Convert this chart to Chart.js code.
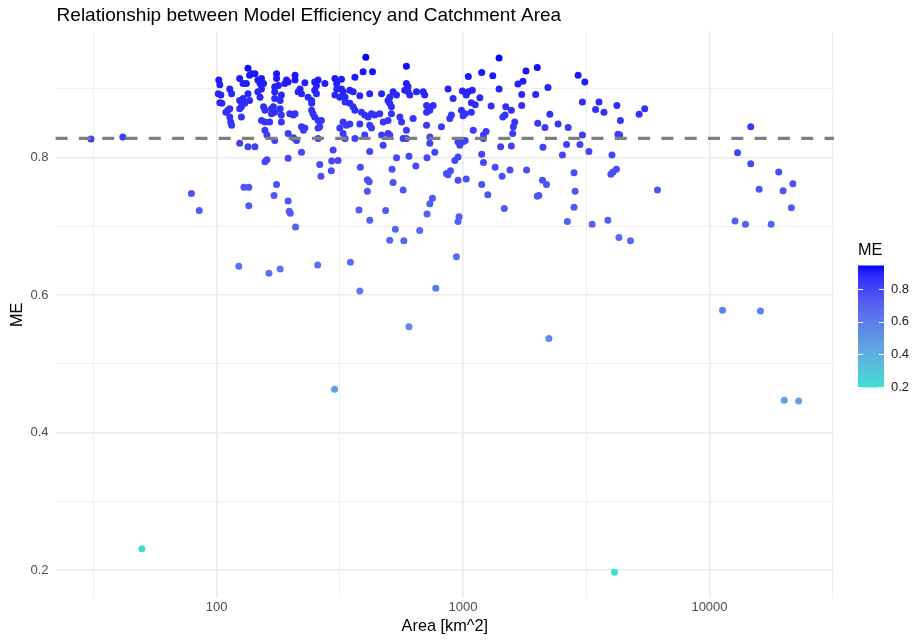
<!DOCTYPE html>
<html>
<head>
<meta charset="utf-8">
<title>Model Efficiency vs Catchment Area</title>
<script src="https://cdn.jsdelivr.net/npm/chart.js@4.4.0/dist/chart.umd.min.js"></script>
<style>
  html, body { margin: 0; padding: 0; background: #ffffff; }
  #wrap { width: 912px; height: 640px; }
</style>
</head>
<body>
<div id="wrap"><canvas id="chart" width="912" height="640"></canvas></div>
<script>
// catchment area [km^2]
const areaKm2 = [
  30.9, 41.6, 79, 85, 102, 103, 101.5, 104, 103, 105,
  113, 115, 111, 109, 113, 113, 114, 115, 124, 128,
  132, 134, 139, 143, 136, 147, 150, 152, 155, 152,
  147, 134, 124, 128, 130, 126, 124, 136, 150, 126,
  155, 157, 152, 164, 157, 167, 170, 172, 167, 175,
  175, 178, 172, 172, 172, 183, 181, 181, 183, 183,
  189, 195, 192, 208, 208, 198, 205, 208, 195, 218,
  221, 214, 228, 221, 228, 225, 235, 243, 243, 243,
  246, 250, 254, 258, 250, 254, 250, 258, 266, 262,
  258, 275, 302, 307, 157, 160, 172, 211, 205, 221,
  258, 124, 134, 143, 297, 403, 393, 429, 364, 321,
  589, 307, 321, 326, 302, 316, 332, 347, 358, 381,
  332, 347, 358, 364, 418, 467, 504, 496, 520, 537,
  504, 512, 589, 598, 580, 598, 608, 647, 689, 699,
  711, 756, 733, 711, 869, 911, 387, 399, 412, 425,
  438, 459, 326, 336, 347, 316, 381, 418, 425, 474,
  496, 512, 554, 563, 627, 589, 711, 817, 897, 883,
  326, 332, 364, 399, 467, 496, 504, 571, 589, 733,
  733, 474, 418, 768, 1400, 1190, 1320, 1050, 1800, 1750,
  1670, 2000, 994, 1050, 1090, 1030, 1170, 1400, 1080, 1120,
  1300, 1730, 1730, 1970, 2210, 985, 1020, 1000, 1080, 1490,
  1570, 1480, 1450, 1620, 1600, 1590, 1100, 1210, 1240, 2250,
  2010, 2150, 2430, 2670, 2930, 3120, 3050, 3450, 3560, 3730,
  4210, 4350, 4250, 4320, 3050, 953, 1000, 970, 1020, 1210,
  1570, 1420, 2110, 2630, 2980, 3240, 1190, 2530, 4020, 5460,
  5180, 6150, 4780, 14700, 13000, 14700, 19100, 15900, 19900, 21800,
  21500, 12700, 14000, 17800, 157, 160, 195, 262, 293, 292,
  265, 175, 129, 135, 171, 195, 135, 197, 199, 209,
  123, 163, 181, 257, 537, 603, 714, 311, 383, 515,
  643, 856, 889, 869, 409, 416, 520, 409, 571, 751,
  733, 378, 485, 714, 418, 531, 667, 504, 575, 349,
  381, 775, 926, 954, 954, 1030, 1210, 1350, 1440, 1550,
  1190, 1260, 1810, 1470, 2100, 2180, 2030, 2000, 2820, 2850,
  2820, 2650, 3340, 3870, 3980, 4060, 4190, 963, 954, 940,
  4290, 301, 603, 2230, 11300, 16100, 20100, 23000, 49.7, 4120
];

// model efficiency for each catchment
const meValues = [
  0.827, 0.830, 0.748, 0.723, 0.913, 0.906, 0.893, 0.891, 0.880, 0.879,
  0.900, 0.893, 0.869, 0.866, 0.871, 0.859, 0.852, 0.847, 0.915, 0.908,
  0.908, 0.930, 0.922, 0.922, 0.920, 0.913, 0.908, 0.915, 0.908, 0.900,
  0.896, 0.893, 0.883, 0.886, 0.879, 0.874, 0.871, 0.883, 0.888, 0.859,
  0.874, 0.869, 0.854, 0.852, 0.840, 0.871, 0.874, 0.866, 0.864, 0.922,
  0.915, 0.905, 0.903, 0.896, 0.886, 0.891, 0.883, 0.871, 0.862, 0.852,
  0.908, 0.910, 0.913, 0.920, 0.913, 0.864, 0.862, 0.864, 0.835, 0.900,
  0.893, 0.896, 0.909, 0.845, 0.843, 0.840, 0.888, 0.883, 0.879, 0.869,
  0.864, 0.910, 0.905, 0.913, 0.898, 0.893, 0.859, 0.854, 0.854, 0.845,
  0.843, 0.908, 0.915, 0.908, 0.852, 0.833, 0.825, 0.825, 0.829, 0.808,
  0.828, 0.821, 0.816, 0.816, 0.811, 0.946, 0.925, 0.925, 0.917, 0.914,
  0.933, 0.900, 0.900, 0.896, 0.891, 0.888, 0.888, 0.898, 0.896, 0.890,
  0.881, 0.879, 0.874, 0.869, 0.893, 0.893, 0.888, 0.883, 0.896, 0.891,
  0.879, 0.874, 0.908, 0.903, 0.898, 0.896, 0.891, 0.896, 0.896, 0.891,
  0.876, 0.876, 0.869, 0.866, 0.900, 0.886, 0.866, 0.862, 0.859, 0.864,
  0.862, 0.864, 0.852, 0.847, 0.849, 0.843, 0.849, 0.847, 0.843, 0.852,
  0.854, 0.864, 0.859, 0.852, 0.857, 0.840, 0.847, 0.845, 0.862, 0.857,
  0.835, 0.828, 0.828, 0.833, 0.833, 0.835, 0.833, 0.828, 0.828, 0.830,
  0.821, 0.818, 0.809, 0.808, 0.945, 0.924, 0.919, 0.918, 0.926, 0.911,
  0.907, 0.931, 0.897, 0.896, 0.898, 0.891, 0.887, 0.900, 0.880, 0.877,
  0.875, 0.892, 0.876, 0.892, 0.902, 0.869, 0.864, 0.861, 0.866, 0.874,
  0.869, 0.862, 0.859, 0.852, 0.845, 0.835, 0.840, 0.833, 0.838, 0.863,
  0.850, 0.844, 0.849, 0.844, 0.920, 0.910, 0.881, 0.870, 0.881, 0.866,
  0.876, 0.854, 0.834, 0.833, 0.833, 0.823, 0.823, 0.818, 0.825, 0.828,
  0.817, 0.816, 0.815, 0.819, 0.819, 0.809, 0.805, 0.804, 0.804, 0.871,
  0.863, 0.753, 0.679, 0.845, 0.807, 0.791, 0.779, 0.754, 0.752, 0.762,
  0.727, 0.708, 0.703, 0.703, 0.794, 0.797, 0.799, 0.790, 0.795, 0.781,
  0.773, 0.761, 0.757, 0.757, 0.745, 0.737, 0.730, 0.722, 0.719, 0.699,
  0.642, 0.632, 0.638, 0.644, 0.800, 0.802, 0.800, 0.796, 0.786, 0.783,
  0.788, 0.777, 0.781, 0.775, 0.768, 0.765, 0.764, 0.751, 0.753, 0.741,
  0.733, 0.724, 0.723, 0.718, 0.709, 0.696, 0.694, 0.680, 0.679, 0.648,
  0.606, 0.610, 0.796, 0.801, 0.767, 0.769, 0.793, 0.786, 0.773, 0.782,
  0.761, 0.746, 0.782, 0.726, 0.767, 0.761, 0.745, 0.744, 0.778, 0.751,
  0.728, 0.707, 0.703, 0.709, 0.776, 0.779, 0.783, 0.714, 0.707, 0.656,
  0.684, 0.463, 0.554, 0.537, 0.578, 0.577, 0.447, 0.446, 0.231, 0.197
];

const meanME = 0.828; // dashed reference line

const xGridTicks = [31.62, 100, 316.2, 1000, 3162, 10000, 31623];
const xLabelTicks = [100, 1000, 10000];
const yGridTicks = [0.2, 0.3, 0.4, 0.5, 0.6, 0.7, 0.8, 0.9];
const yLabelTicks = [0.2, 0.4, 0.6, 0.8];
const legendBreaks = [0.2, 0.4, 0.6, 0.8];

const FONT = '"Liberation Sans", Arial, sans-serif';
const gridColour = '#EBEBEB';
const lowColour = [64, 224, 208];   // turquoise
const highColour = [0, 0, 255];     // blue

// ggplot-like 5% expansion of the data range
const logA = areaKm2.map(a => Math.log10(a));
const lMin = Math.min(...logA), lMax = Math.max(...logA);
const xMin = Math.pow(10, lMin - 0.05 * (lMax - lMin));
const xMax = Math.pow(10, lMax + 0.05 * (lMax - lMin));
const meMin = Math.min(...meValues), meMax = Math.max(...meValues);
const yMin = meMin - 0.05 * (meMax - meMin);
const yMax = meMax + 0.05 * (meMax - meMin);

// colour gradient in CIELAB, like scale_colour_gradient
function toLin(c) { c /= 255; return c <= 0.04045 ? c / 12.92 : Math.pow((c + 0.055) / 1.055, 2.4); }
function fromLin(c) {
  const v = c <= 0.0031308 ? 12.92 * c : 1.055 * Math.pow(c, 1 / 2.4) - 0.055;
  return Math.round(Math.max(0, Math.min(1, v)) * 255);
}
function rgbToLab(rgb) {
  const [r, g, b] = rgb.map(toLin);
  const X = (0.4124 * r + 0.3576 * g + 0.1805 * b) / 0.95047;
  const Y = 0.2126 * r + 0.7152 * g + 0.0722 * b;
  const Z = (0.0193 * r + 0.1192 * g + 0.9505 * b) / 1.08883;
  const f = t => t > 0.008856 ? Math.cbrt(t) : 7.787 * t + 16 / 116;
  const fx = f(X), fy = f(Y), fz = f(Z);
  return [116 * fy - 16, 500 * (fx - fy), 200 * (fy - fz)];
}
function labToRgb(lab) {
  const fy = (lab[0] + 16) / 116, fx = fy + lab[1] / 500, fz = fy - lab[2] / 200;
  const inv = t => t * t * t > 0.008856 ? t * t * t : (t - 16 / 116) / 7.787;
  const X = inv(fx) * 0.95047, Y = inv(fy), Z = inv(fz) * 1.08883;
  const r = 3.2406 * X - 1.5372 * Y - 0.4986 * Z;
  const g = -0.9689 * X + 1.8758 * Y + 0.0415 * Z;
  const b = 0.0557 * X - 0.2040 * Y + 1.0570 * Z;
  return 'rgb(' + fromLin(r) + ',' + fromLin(g) + ',' + fromLin(b) + ')';
}
const labLow = rgbToLab(lowColour), labHigh = rgbToLab(highColour);
function colourFor(v) {
  const t = Math.max(0, Math.min(1, (v - meMin) / (meMax - meMin)));
  return labToRgb(labLow.map((l, i) => l + t * (labHigh[i] - l)));
}

const background = {
  id: 'background',
  beforeDraw(chart) {
    const c = chart.ctx;
    c.save();
    c.fillStyle = '#ffffff';
    c.fillRect(0, 0, chart.width, chart.height);
    c.restore();
  }
};

const meanLine = {
  id: 'meanLine',
  afterDatasetsDraw(chart) {
    const c = chart.ctx, area = chart.chartArea;
    const y = chart.scales.y.getPixelForValue(meanME);
    c.save();
    c.strokeStyle = '#7F7F7F';
    c.lineWidth = 3.2;
    c.setLineDash([12, 11.3]);
    c.beginPath();
    c.moveTo(area.left, y);
    c.lineTo(area.right, y);
    c.stroke();
    c.restore();
  }
};

const plotTitle = {
  id: 'plotTitle',
  afterDraw(chart) {
    const c = chart.ctx;
    c.save();
    c.fillStyle = '#000000';
    c.font = '19px ' + FONT;
    c.textBaseline = 'alphabetic';
    c.textAlign = 'left';
    c.fillText('Relationship between Model Efficiency and Catchment Area', chart.chartArea.left + 1, 21);
    c.restore();
  }
};

// colour bar legend
const colourBar = {
  id: 'colourBar',
  afterDraw(chart) {
    const c = chart.ctx;
    const left = 858, width = 26, top = 265.5, bottom = 387.5;
    const yOf = v => bottom - (v - meMin) / (meMax - meMin) * (bottom - top);
    c.save();
    const grad = c.createLinearGradient(0, bottom, 0, top);
    for (let i = 0; i <= 20; i++) {
      grad.addColorStop(i / 20, colourFor(meMin + i / 20 * (meMax - meMin)));
    }
    c.fillStyle = grad;
    c.fillRect(left, top, width, bottom - top);
    c.strokeStyle = '#ffffff';
    c.lineWidth = 1;
    c.fillStyle = '#1A1A1A';
    c.font = '13px ' + FONT;
    c.textBaseline = 'middle';
    c.textAlign = 'left';
    legendBreaks.forEach(b => {
      const y = Math.round(yOf(b)) + 0.5;
      c.beginPath();
      c.moveTo(left, y); c.lineTo(left + 5, y);
      c.moveTo(left + width - 5, y); c.lineTo(left + width, y);
      c.stroke();
      c.fillText(b.toFixed(1), left + width + 7, yOf(b));
    });
    c.fillStyle = '#000000';
    c.font = '16.3px ' + FONT;
    c.fillText('ME', left, 251);
    c.restore();
  }
};

const points = areaKm2.map((a, i) => ({ x: a, y: meValues[i] }));

new Chart(document.getElementById('chart'), {
  type: 'scatter',
  data: {
    datasets: [{
      data: points,
      backgroundColor: meValues.map(colourFor),
      borderWidth: 0,
      pointRadius: 3.5,
      pointHoverRadius: 3.5
    }]
  },
  options: {
    responsive: false,
    animation: false,
    events: [],
    layout: { padding: { left: 0, right: 78, top: 31.5, bottom: 0 } },
    plugins: {
      legend: { display: false },
      tooltip: { enabled: false },
      title: { display: false }
    },
    scales: {
      x: {
        type: 'logarithmic',
        min: xMin,
        max: xMax,
        bounds: 'data',
        afterBuildTicks(scale) { scale.ticks = xGridTicks.map(v => ({ value: v })); },
        afterFit(scale) { scale.height = 42; },
        border: { display: false },
        grid: {
          color: gridColour,
          drawTicks: false,
          lineWidth: ctx => (ctx.tick && xLabelTicks.includes(ctx.tick.value)) ? 1.6 : 0.8
        },
        ticks: {
          autoSkip: false,
          maxRotation: 0,
          padding: 2,
          color: '#4D4D4D',
          font: { family: FONT, size: 13 },
          callback: v => xLabelTicks.includes(v) ? String(v) : ''
        },
        title: {
          display: true,
          text: 'Area [km^2]',
          color: '#000000',
          font: { family: FONT, size: 16.3 },
          padding: { top: 0, bottom: 4 }
        }
      },
      y: {
        type: 'linear',
        min: yMin,
        max: yMax,
        afterBuildTicks(scale) { scale.ticks = yGridTicks.map(v => ({ value: v })); },
        afterFit(scale) { scale.width = 55.6; },
        border: { display: false },
        grid: {
          color: gridColour,
          drawTicks: false,
          lineWidth: ctx => (ctx.tick && yLabelTicks.includes(ctx.tick.value)) ? 1.6 : 0.8
        },
        ticks: {
          padding: 7,
          color: '#4D4D4D',
          font: { family: FONT, size: 13 },
          callback: v => yLabelTicks.includes(v) ? v.toFixed(1) : ''
        },
        title: {
          display: true,
          text: 'ME',
          color: '#000000',
          font: { family: FONT, size: 16.3 },
          padding: { top: 7.7, bottom: 0 }
        }
      }
    }
  },
  plugins: [background, meanLine, plotTitle, colourBar]
});
</script>
</body>
</html>
